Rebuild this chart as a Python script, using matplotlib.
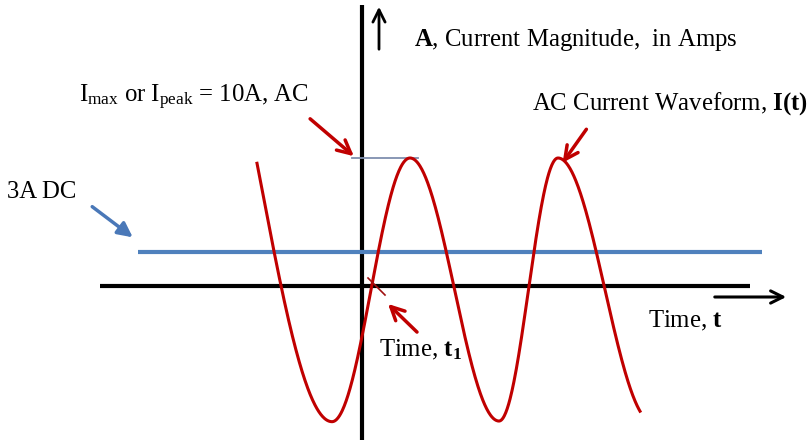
import numpy as np
import matplotlib
matplotlib.use("Agg")
import matplotlib.pyplot as plt

plt.rcParams['font.family'] = ['Liberation Serif', 'DejaVu Serif']
plt.rcParams['mathtext.fontset'] = 'custom'
plt.rcParams['mathtext.rm'] = 'Liberation Serif'
plt.rcParams['mathtext.it'] = 'Liberation Serif:italic'
plt.rcParams['mathtext.bf'] = 'Liberation Serif:bold'

# ---- data (time in arbitrary units, current in amps) ----
# successive shape knots of the hand-drawn waveform (peaks / troughs);
# the first and last knots lie outside the drawn range and only shape its ends
extreme_times = [-17.1, -3.0, 4.8, 13.7, 19.6, 29.0]
extreme_values = [26.1, -10.6, 10.0, -10.55, 10.0, -10.6]
wave_start, wave_end = -10.5, 27.8
dc_level = 2.66
dc_start, dc_end = -22.4, 40.0
i_peak = 10.0
t1 = 1.0

# ---- pixel helpers for layout ----
def X(px):
    return (px - 362) / 10.0

def Y(py):
    return (286 - py) / 12.8

fig = plt.figure(figsize=(8.09, 4.40), dpi=100)
ax = fig.add_axes([0, 0, 1, 1])
ax.set_xlim(X(0), X(809))
ax.set_ylim(Y(440), Y(0))
ax.axis('off')

RED = '#C00000'
BLUE = '#4F81BD'

# waveform drawn through the read knots
t = np.linspace(wave_start, wave_end, 800)
cur = np.empty_like(t)
for i, tv in enumerate(t):
    k = np.searchsorted(extreme_times, tv) - 1
    k = min(max(k, 0), len(extreme_times) - 2)
    t0, tt1 = extreme_times[k], extreme_times[k + 1]
    v0, v1 = extreme_values[k], extreme_values[k + 1]
    f = (tv - t0) / (tt1 - t0)
    cur[i] = v0 + (v1 - v0) * (1 - np.cos(np.pi * f)) / 2

# axes lines
ax.plot([X(100), X(750)], [0, 0], color='black', lw=3, solid_capstyle='butt', zorder=2)
ax.plot([0, 0], [Y(440), Y(5)], color='black', lw=3, solid_capstyle='butt', zorder=2)

# DC line
ax.plot([dc_start, dc_end], [dc_level, dc_level], color=BLUE, lw=3, solid_capstyle='butt', zorder=3)

# peak marker line
ax.plot([X(352), X(418)], [i_peak, i_peak], color='#7F8FAF', lw=1.3, zorder=3)

# waveform
ax.plot(t, cur, color=RED, lw=2.2, zorder=4)

# t1 tick
ax.plot([X(368), X(385)], [Y(278), Y(295)], color='#A01010', lw=1.2, zorder=5)

# axis arrows
ax.annotate('', xy=(X(379), Y(4)), xytext=(X(379), Y(52)),
            arrowprops=dict(arrowstyle='->', lw=2, color='black', mutation_scale=22))
ax.annotate('', xy=(X(789), Y(297)), xytext=(X(712), Y(297)),
            arrowprops=dict(arrowstyle='->', lw=2.2, color='black', mutation_scale=22))

# pointer arrows
ax.annotate('', xy=(X(356), Y(158)), xytext=(X(308), Y(117)),
            arrowprops=dict(arrowstyle='->', lw=2.5, color=RED, mutation_scale=24))
ax.annotate('', xy=(X(561), Y(165)), xytext=(X(588), Y(127)),
            arrowprops=dict(arrowstyle='->', lw=2.5, color=RED, mutation_scale=24))
ax.annotate('', xy=(X(386), Y(302)), xytext=(X(419), Y(334)),
            arrowprops=dict(arrowstyle='->', lw=2.5, color=RED, mutation_scale=24))
ax.annotate('', xy=(X(135), Y(239)), xytext=(X(90), Y(205)),
            arrowprops=dict(arrowstyle='-|>', lw=2.5, color='#4A78B8', mutation_scale=22))

# texts
fs = 17.8
ax.text(X(414), Y(40), r'$\mathbf{A}$, Current Magnitude,  in Amps', fontsize=fs, ha='left', va='center')
ax.text(X(79), Y(97), r'I$_{\rm max}$ or I$_{\rm peak}$ = 10A, AC', fontsize=fs, ha='left', va='center')
ax.text(X(532), Y(104), r'AC Current Waveform, $\mathbf{I(t)}$', fontsize=fs, ha='left', va='center')
ax.text(X(7), Y(192), '3A DC', fontsize=fs, ha='left', va='center')
ax.text(X(648), Y(321), r'Time, $\mathbf{t}$', fontsize=fs, ha='left', va='center')
ax.text(X(379), Y(350), r'Time, $\mathbf{t_1}$', fontsize=fs, ha='left', va='center')

fig.savefig('out.png', dpi=100)
